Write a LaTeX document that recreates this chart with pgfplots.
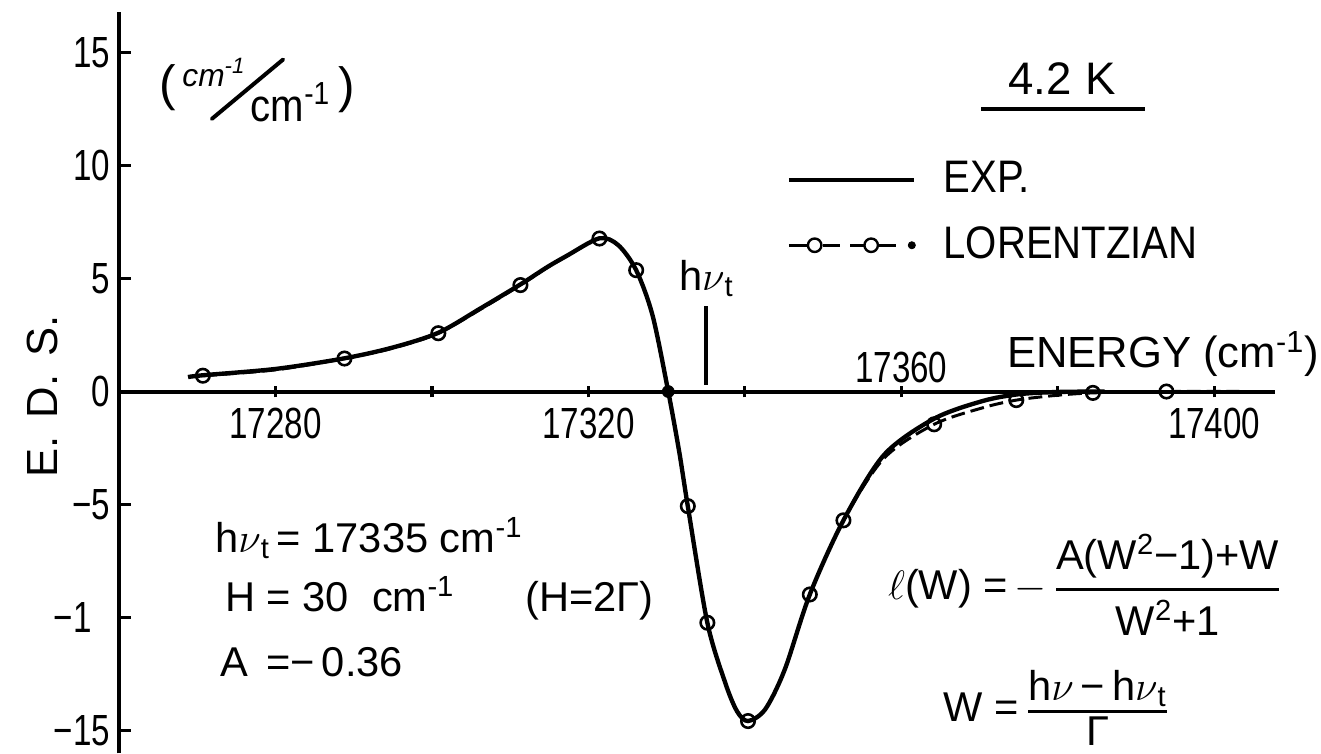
\documentclass[border=0pt]{standalone}
\usepackage{amsmath}
\usepackage{pgfplots}
\usepackage{pgfplotstable}
\pgfplotsset{compat=1.18}
\usepackage{fontspec}
\setmainfont{Liberation Sans}
\newfontfamily\narrowfont{Liberation Sans}[FakeStretch=0.76]
\newfontfamily\legfont{Liberation Sans}[FakeStretch=0.88]
\newcommand\sz[1]{\fontsize{#1}{#1}\selectfont}

% measured electro-absorption derivative spectrum (solid)
\pgfplotstableread{
E y
17268.8 0.64
17270.7 0.72
17280.0 1.00
17288.8 1.47
17295.0 1.95
17300.8 2.60
17306.2 3.68
17311.3 4.74
17314.7 5.50
17317.2 6.00
17321.4 6.78
17323.8 6.48
17326.1 5.37
17328.2 3.36
17330.2 0.00
17331.6 -2.66
17332.7 -5.07
17335.2 -10.23
17337.5 -12.90
17339.0 -14.15
17340.4 -14.58
17342.6 -14.06
17345.1 -12.30
17348.3 -8.98
17352.6 -5.70
17357.8 -2.80
17364.2 -1.20
17370.4 -0.42
17375.0 -0.12
17380.0 -0.02
17386.0 0.00
}\expdata

% Lorentzian fit (dashed)
\pgfplotstableread{
E y
17270.7 0.70
17280.0 0.96
17288.8 1.46
17295.0 1.92
17300.8 2.58
17306.2 3.64
17311.3 4.71
17314.7 5.48
17317.2 5.98
17321.4 6.77
17323.8 6.48
17326.1 5.37
17328.2 3.36
17330.2 0.00
17331.6 -2.66
17332.7 -5.07
17335.2 -10.23
17337.5 -12.90
17339.0 -14.15
17340.4 -14.58
17342.6 -14.06
17345.1 -12.30
17348.3 -8.98
17352.6 -5.70
17357.8 -2.95
17364.2 -1.45
17370.4 -0.72
17374.7 -0.38
17379.5 -0.18
17384.5 -0.06
17393.9 0.00
17406.0 0.00
}\lordata

% computed Lorentzian points (open circles)
\pgfplotstableread{
E y
17270.7 0.70
17288.8 1.46
17300.8 2.58
17311.3 4.71
17321.4 6.77
17326.1 5.37
17332.7 -5.07
17335.2 -10.23
17340.4 -14.58
17348.3 -8.98
17352.6 -5.70
17364.2 -1.45
17374.7 -0.38
17384.5 -0.06
17393.9 0.00
}\lormarks

\begin{document}
\sz{21pt}
\begin{tikzpicture}
\begin{axis}[
  at={(54.3pt,0pt)}, anchor=south west,
  x=3.945pt, y=11.4pt,
  xmin=17260, xmax=17407.8, ymin=-16.0088, ymax=16.798,
  axis x line=middle, axis y line=left,
  axis line style={-, line width=2pt},
  clip=false,
  scaled x ticks=false,
  xtick={17280,17300,17320,17340,17360,17380,17400},
  xticklabels={17280,,17320,,,,17400},
  ytick={-15,-10,-5,0,5,10,15},
  yticklabels={−15,−1\phantom{0},−5,0,5,10,15},
  major tick length=6pt,
  tick style={black, line width=1.6pt},
  ytick align=inside, xtick align=center,
  xticklabel style={font=\narrowfont\sz{22pt}, anchor=north, inner sep=0pt, yshift=-5pt},
  yticklabel style={font=\narrowfont\sz{22pt}, anchor=east, inner sep=0pt, xshift=-4.5pt},
  legend style={draw=none, fill=none, at={(0.5773,0.805)}, anchor=north west,
    inner sep=0pt, row sep=10pt, column sep=12pt, font=\legfont\sz{23pt}},
  legend cell align=left,
]
\addlegendimage{legend image code/.code={\draw[line width=2pt] (0pt,0pt) -- (63pt,0pt);}}
\addlegendentry{EXP.}
\addlegendimage{legend image code/.code={
  \draw[line width=1.6pt] (0pt,0pt) -- (9pt,0pt) (17pt,0pt) -- (26pt,0pt)
                          (31pt,0pt) -- (38pt,0pt) (45pt,0pt) -- (54pt,0pt);
  \draw[line width=1.2pt, fill=white] (13pt,0pt) circle (3.4pt) (41.5pt,0pt) circle (3.4pt);
  \fill (62pt,0pt) circle (1.8pt);}}
\addlegendentry{LORENTZIAN}

\addplot[black, line width=1.5pt, dash pattern=on 7pt off 3pt, smooth, tension=0.5, forget plot]
  table[x=E, y=y] {\lordata};
\addplot[black, line width=2.2pt, smooth, tension=0.5, forget plot]
  table[x=E, y=y] {\expdata};
\addplot[only marks, mark=o, mark size=3.4pt, mark options={solid, fill=white, line width=1.3pt}, forget plot]
  table[x=E, y=y] {\lormarks};
\addplot[only marks, mark=*, mark size=3pt, forget plot] coordinates {(17330.2,0)};

% transition energy marker
\draw[line width=2pt] (axis cs:17335,0.3) -- (axis cs:17335,3.8);
\node[font=\narrowfont\sz{22pt}, anchor=base, inner sep=0pt] at (axis cs:17360,0.39) {17360};
\end{axis}

\begin{scope}[x=0.5pt, y=-0.5pt, shift={(0pt,380pt)}, every node/.style={inner sep=0pt}]
  % y label and units
  \node[rotate=90, font=\sz{22pt}] at (31,400) {E.\hspace{9pt}D.\hspace{9pt}S.};
  \node[anchor=base west, font=\sz{25pt}] at (149,101) {(};
  \node[anchor=base west, font=\sz{16pt}\itshape] at (172,87) {cm\textsuperscript{-1}};
  \draw[line width=2pt, line cap=round] (202,120) -- (274,60);
  \node[anchor=base west, font=\legfont\sz{23pt}] at (241,123) {cm\textsuperscript{-1}};
  \node[anchor=base west, font=\sz{25pt}] at (329,103) {)};
  % temperature
  \node[anchor=base, font=\sz{23pt}] at (1060,95) {4.2\hspace{0.3em}K};
  \draw[line width=2pt] (978,110) -- (1143,110);
  % x label
  \node[anchor=base west, font=\sz{22pt}] at (1004,371) {ENERGY (cm\textsuperscript{-1})};
  \node[anchor=base, font=\sz{21pt}] at (701,293) {h$\nu$\textsubscript{t}};
  % fit parameters
  \node[anchor=base west] at (205,557) {h$\nu$\textsubscript{t}\,= 17335 cm\textsuperscript{-1}};
  \node[anchor=base west] at (215,617) {H = 30\ \ cm\textsuperscript{-1}};
  \node[anchor=base west] at (518,617) {(H=2Γ)};
  \node[anchor=base west] at (210,682) {A \,=−\,0.36};
  % line-shape formulas
  \node[anchor=west] at (884,590)
    {$\displaystyle \ell\mbox{(W) =\,}{-}\,\genfrac{}{}{1.6pt}{0}{\mbox{A(W\textsuperscript{2}−1)+W}}{\mbox{W\textsuperscript{2}+1}}$};
  \node[anchor=west] at (940,714)
    {$\mbox{W =\,}\genfrac{}{}{1.6pt}{1}{\mbox{h$\nu$\,−\,h$\nu$\textsubscript{t}}}{\mbox{Γ}}$};
\end{scope}

\pgfresetboundingbox
\path[use as bounding box] (0,0) rectangle (660.5pt,380pt);
\end{tikzpicture}
\end{document}
